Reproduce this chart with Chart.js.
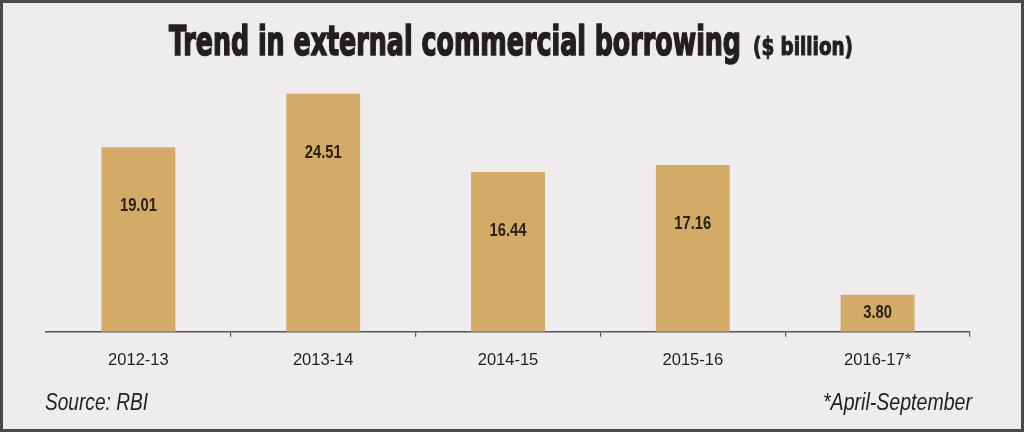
<!DOCTYPE html>
<html>
<head>
<meta charset="utf-8">
<title>Trend in external commercial borrowing</title>
<script src="https://cdn.jsdelivr.net/npm/chart.js@4"></script>
<style>
    html, body { margin: 0; padding: 0; background: #eeecec; }
    #wrap { width: 1024px; height: 432px; }
</style>
</head>
<body>
<div id="wrap"><canvas id="ecbChart" width="1024" height="432"></canvas></div>
<script>
// DATA
const categories = ['2012-13', '2013-14', '2014-15', '2015-16', '2016-17*'];
const ecbValues = [19.01, 24.51, 16.44, 17.16, 3.80];
const titleMain = 'Trend in external commercial borrowing';
const titleUnit = '($ billion)';
const sourceNote = 'Source: RBI';
const periodNote = '*April-September';

const BAR_COLOR = '#d3ab67';
const TEXT_DARK = '#231f20';

// frame, title and footnotes
const decorPlugin = {
    id: 'decor',
    beforeDraw(chart) {
        const ctx = chart.ctx;
        ctx.save();
        ctx.fillStyle = '#eeecec';
        ctx.fillRect(0, 0, chart.width, chart.height);
        ctx.restore();
    },
    afterDraw(chart) {
        const ctx = chart.ctx;
        ctx.save();
        ctx.strokeStyle = '#4a4a4a';
        ctx.lineWidth = 3;
        ctx.strokeRect(1.5, 1.5, chart.width - 3, chart.height - 3);

        ctx.fillStyle = TEXT_DARK;
        ctx.strokeStyle = TEXT_DARK;
        ctx.textBaseline = 'alphabetic';
        ctx.textAlign = 'left';
        ctx.font = "bold 40px 'DejaVu Sans Condensed', 'DejaVu Sans'";
        ctx.lineWidth = 1.6;
        ctx.fillText(titleMain, 169, 54.5, 572);
        ctx.strokeText(titleMain, 169, 54.5, 572);
        ctx.font = "bold 24px 'DejaVu Sans Condensed', 'DejaVu Sans'";
        ctx.lineWidth = 1;
        ctx.fillText(titleUnit, 753, 54.5, 100);
        ctx.strokeText(titleUnit, 753, 54.5, 100);

        ctx.font = "italic 23px 'Liberation Sans'";
        ctx.fillText(sourceNote, 45, 410, 103);
        ctx.textAlign = 'right';
        ctx.fillText(periodNote, 972, 410, 149);
        ctx.restore();
    }
};

// value labels inside the bars
const valueLabelPlugin = {
    id: 'valueLabels',
    afterDatasetsDraw(chart) {
        const ctx = chart.ctx;
        const meta = chart.getDatasetMeta(0);
        ctx.save();
        ctx.fillStyle = '#2b2118';
        ctx.font = "bold 18px 'Liberation Sans'";
        ctx.textAlign = 'center';
        ctx.textBaseline = 'middle';
        meta.data.forEach((bar, i) => {
            const y = Math.min(bar.y + 59, (bar.y + bar.base) / 2);
            ctx.save();
            ctx.translate(bar.x, y);
            ctx.scale(0.82, 1);
            ctx.fillText(ecbValues[i].toFixed(2), 0, 0);
            ctx.restore();
        });
        ctx.restore();
    }
};

const ecbData = {
    labels: categories,
    datasets: [{
        label: 'ECB ($ billion)',
        data: ecbValues,
        backgroundColor: BAR_COLOR,
        borderWidth: 0,
        barPercentage: 0.4,
        categoryPercentage: 1.0
    }]
};

const ecbConfig = {
    type: 'bar',
    data: ecbData,
    options: {
        responsive: false,
        animation: false,
        devicePixelRatio: 1,
        layout: {
            padding: { left: 46, right: 54, top: 89, bottom: 47.5 }
        },
        plugins: {
            legend: { display: false },
            title: { display: false },
            tooltip: { enabled: false }
        },
        scales: {
            x: {
                grid: {
                    offset: true,
                    drawOnChartArea: false,
                    drawTicks: true,
                    tickLength: 5,
                    lineWidth: 1.2,
                    // no tick marks at the two ends of the axis
                    color: (c) => (c.index === 0 || c.index === categories.length) ? 'rgba(0,0,0,0)' : '#555'
                },
                border: { color: '#555', width: 1.5 },
                ticks: {
                    color: TEXT_DARK,
                    padding: 14,
                    font: { family: "'Liberation Sans'", size: 16.5 }
                }
            },
            y: {
                display: false,
                min: 0,
                max: 25
            }
        }
    },
    plugins: [decorPlugin, valueLabelPlugin]
};

function initChart() {
    if (typeof Chart === 'undefined') {
        console.error('Chart.js is not loaded.');
        return;
    }
    const canvas = document.getElementById('ecbChart');
    new Chart(canvas.getContext('2d'), ecbConfig);
}

if (document.readyState === 'loading') {
    document.addEventListener('DOMContentLoaded', initChart);
} else {
    initChart();
}
</script>
</body>
</html>
